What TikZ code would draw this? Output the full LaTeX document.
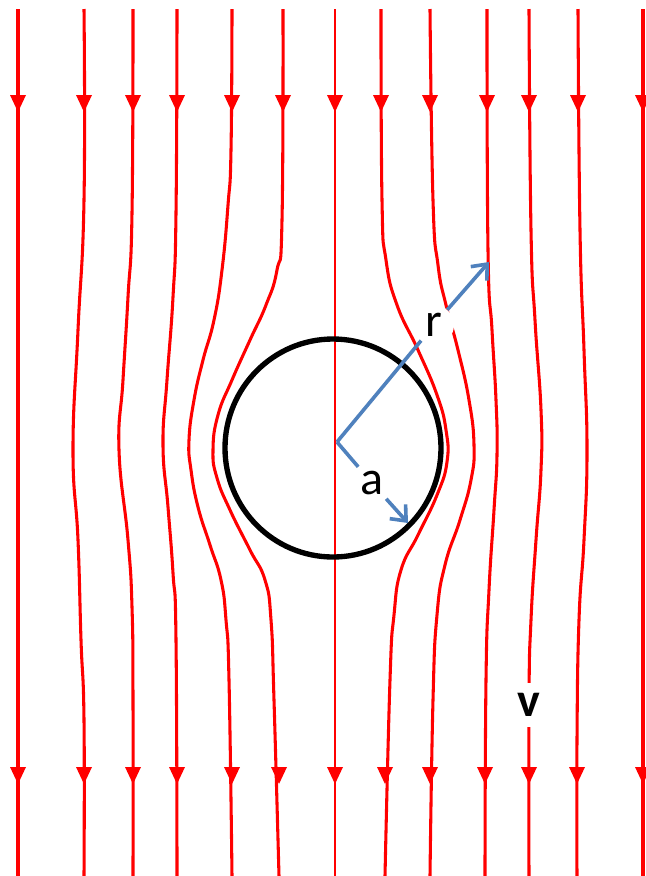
\documentclass[tikz,border=0pt]{standalone}
\usepackage{fontspec}
\setmainfont{Carlito}
\usetikzlibrary{arrows.meta}
\definecolor{flowred}{RGB}{255,0,0}
\definecolor{radblue}{RGB}{79,129,189}
\begin{document}
\begin{tikzpicture}[x=0.75pt,y=-0.75pt,
  stream/.style={draw=flowred, line width=2.3pt, line join=round},
  centreline/.style={draw=flowred, line width=1.9pt},
  bodyline/.style={draw=black, line width=4pt},
  blueline/.style={draw=radblue, line width=2.7pt},
  bluearrow/.style={blueline, -{Straight Barb[length=9.5pt,width=16pt]}},
  lbl/.style={circle, fill=white, inner sep=0pt, minimum size=30pt, font=\fontsize{36}{40}\selectfont},
  flowarrow/.pic={\fill[flowred] (-8,-9) -- (8,-9) -- (0,8) -- cycle;}
]
\useasboundingbox[fill=white] (0,0) rectangle (646,876);

% ---- streamlines, left side
\draw[stream] (18,9) -- (18,876);
\draw[stream] plot[smooth,tension=0.8] coordinates {(84,9) (84,200) (78,330) (73,450) (78,540) (81,640) (84,720) (84,876)};
\draw[stream] plot[smooth,tension=0.8] coordinates {(133,9) (132,213) (128,297) (123,380) (119,450) (128,540) (132,607) (133,700) (133,876)};
\draw[stream] plot[smooth,tension=0.8] coordinates {(177,9) (176,213) (173,297) (167,380) (163,445) (168,507) (173,573) (176,640) (177,876)};
\draw[stream] plot[smooth,tension=0.8] coordinates {(232,9) (231,150) (228,205) (222,270) (214,320) (203,360) (194,400) (189,440) (191,470) (198,507) (210,545) (221,580) (226,620) (229,680) (232,876)};
\draw[stream] plot[smooth,tension=0.8] coordinates {(283,9) (282,220) (277,270) (266,305) (250,340) (232,380) (218,415) (213,450) (217,478) (230,510) (250,550) (265,580) (271,620) (274,700) (279,876)};
% ---- centre line
\draw[centreline] (335,9) -- (335,876);
% ---- streamlines, right side
\draw[stream] plot[smooth,tension=0.8] coordinates {(381,9) (382,200) (386,260) (397,305) (418,350) (437,395) (446,430) (447,462) (437,495) (418,535) (401,570) (394,615) (390,680) (385,876)};
\draw[stream] plot[smooth,tension=0.8] coordinates {(430,9) (433,200) (438,265) (446,305) (458,350) (469,400) (474,445) (471,480) (460,520) (445,565) (437,615) (433,700) (430,876)};
\draw[stream] plot[smooth,tension=0.8] coordinates {(487,9) (488,250) (492,330) (496,400) (497,455) (494,510) (489,590) (486,680) (485,876)};
\draw[stream] plot[smooth,tension=0.8] coordinates {(529,9) (531,230) (535,320) (541,410) (541,470) (536,540) (531,620) (529,700) (529,876)};
\draw[stream] plot[smooth,tension=0.8] coordinates {(578,9) (580,230) (584,350) (587,450) (584,540) (579,620) (577,740) (577,876)};
\draw[stream] (643,9) -- (643,876);

% ---- flow arrows, top row
\foreach \xx in {18,84,133,177,232,283,335,381,430,487,529,578,643}
  \pic at (\xx,104) {flowarrow};
% ---- flow arrows, bottom row
\foreach \xx in {18,84,133,177,232,279,335,385,430,485,529,577,643}
  \pic at (\xx,776) {flowarrow};

% ---- cylinder
\draw[bodyline] (333,448) circle[x radius=108, y radius=109];

% ---- labels
\coordinate (o) at (337,442);
\coordinate (rtip) at (489,262);
\coordinate (atip) at (408,523);
\node[lbl] (rlab) at (434,325) {r};
\node[lbl, minimum size=31.5pt] (alab) at (372,483) {a};
\node[lbl, minimum size=33pt, font=\fontsize{36}{40}\selectfont\bfseries] (vlab) at (529,705) {v};

% ---- radius vectors
\draw[blueline] (o) -- (rlab);
\draw[bluearrow] (rlab) -- (rtip);
\draw[blueline] (o) -- (alab);
\draw[bluearrow] (alab) -- (atip);
\end{tikzpicture}
\end{document}
